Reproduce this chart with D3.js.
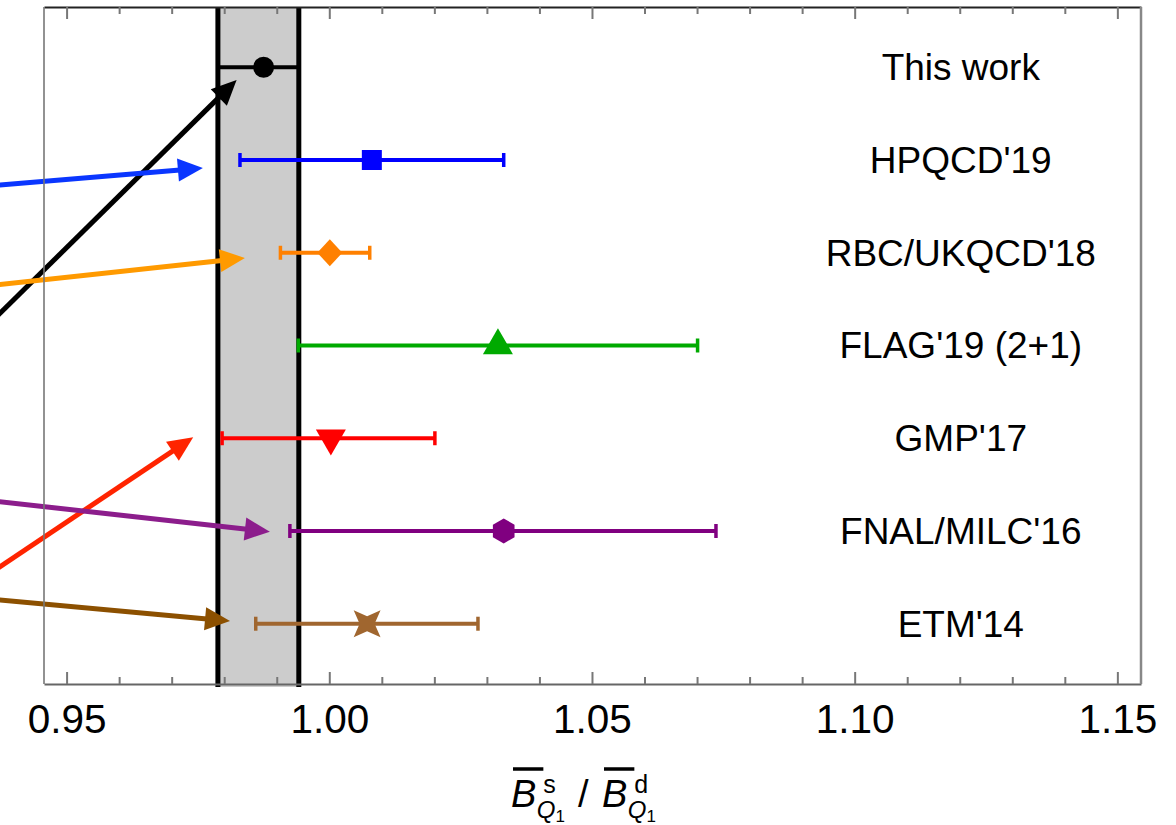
<!DOCTYPE html>
<html><head><meta charset="utf-8">
<script src="https://cdn.jsdelivr.net/npm/d3@7"></script>
<style>
html,body{margin:0;padding:0;background:#fff;}
svg{display:block;font-family:"Liberation Sans",Arial,sans-serif;}
</style></head>
<body>
<svg id="chart" width="1176" height="825"></svg>
<script>
// ---- data ----
const labels  = ["This work","HPQCD'19","RBC/UKQCD'18","FLAG'19 (2+1)","GMP'17","FNAL/MILC'16","ETM'14"];
const rows    = [7,6,5,4,3,2,1];
const central = [0.9875,1.0081,1.0001,1.0321,1.0003,1.0332,1.0072];
const lower   = [0.9788,0.9830,0.9907,0.9941,0.9796,0.9925,0.9860];
const upper   = [0.9942,1.0332,1.0077,1.0701,1.0201,1.0736,1.0283];
const band    = [0.9788,0.9942];
const majorTicks = [0.95,1.00,1.05,1.10,1.15];
const minorTicks = d3.range(0,21).map(i=>+(0.95+i*0.01).toFixed(2)).filter(v=>!majorTicks.includes(v));
// arrows (from another panel, entering from the left)
const arrowFromX = [0.9297,0.9297,0.9297,0.9297,0.9297,0.9297];
const arrowFromY = [3.921,5.695,4.611,1.326,2.363,1.296];
const arrowToX   = [0.98236,0.97594,0.98394,0.97410,0.98869,0.98110];
const arrowToY   = [6.863,5.914,4.944,3.010,1.992,1.029];

// ---- style ----
const colors = ["#000000","#0000ff","#ff8000","#00aa00","#ff0000","#800080","#a0662f"];
const arrowColors = ["#000000","#0a36ff","#ff9a00","#ff2400","#8c1d8c","#8c5000"];
const shapes = ["circle","square","diamond","triangle","triangleDown","hexagon","star4"];

const x = d3.scaleLinear().domain([0.9457,1.1545]).range([44,1141]);
const y = d3.scaleLinear().domain([0.35,7.65]).range([684,7]);
const labelX = 1.1202;

const svg = d3.select("#chart");
const g = svg.append("g");

// band
g.append("rect").attr("x",x(band[0])).attr("width",x(band[1])-x(band[0]))
  .attr("y",y(7.65)).attr("height",y(0.35)-y(7.65)+3).attr("fill","#cccccc");
g.selectAll("line.bandedge").data(band).join("line").attr("class","bandedge")
  .attr("x1",d=>x(d)).attr("x2",d=>x(d)).attr("y1",y(7.65)).attr("y2",y(0.35)+3)
  .attr("stroke","#000").attr("stroke-width",5);

// axes
const axB = d3.axisBottom(x).tickValues(majorTicks).tickSize(-12).tickSizeOuter(0).tickPadding(20).tickFormat(d3.format(".2f"));
const gB = g.append("g").attr("transform",`translate(0,${y(0.35)})`).call(axB);
gB.select(".domain").attr("stroke","#666").attr("stroke-width",2);
gB.selectAll(".tick line").attr("stroke","#777").attr("stroke-width",2);
gB.selectAll(".tick text").attr("font-size",40.5).attr("fill","#000").attr("font-family","Liberation Sans, Arial, sans-serif");
const axBm = d3.axisBottom(x).tickValues(minorTicks).tickSize(-7).tickSizeOuter(0).tickFormat("");
const gBm = g.append("g").attr("transform",`translate(0,${y(0.35)})`).call(axBm);
gBm.select(".domain").remove();
gBm.selectAll(".tick line").attr("stroke","#777").attr("stroke-width",2);

const axT = d3.axisTop(x).tickValues(majorTicks).tickSize(-12).tickSizeOuter(0).tickFormat("");
const gT = g.append("g").attr("transform",`translate(0,${y(7.65)})`).call(axT);
gT.select(".domain").attr("stroke","#222").attr("stroke-width",2);
gT.selectAll(".tick line").attr("stroke","#777").attr("stroke-width",2);
const axTm = d3.axisTop(x).tickValues(minorTicks).tickSize(-7).tickSizeOuter(0).tickFormat("");
const gTm = g.append("g").attr("transform",`translate(0,${y(7.65)})`).call(axTm);
gTm.select(".domain").remove();
gTm.selectAll(".tick line").attr("stroke","#777").attr("stroke-width",2);

// right frame
g.append("line").attr("x1",x(1.1545)).attr("x2",x(1.1545)).attr("y1",y(7.65)).attr("y2",y(0.35))
  .attr("stroke","#888").attr("stroke-width",2.5);

// arrows
const arrowsG = g.append("g");
arrowToX.forEach((tx,i)=>{
  const x0=x(arrowFromX[i]), y0=y(arrowFromY[i]), x1=x(tx), y1=y(arrowToY[i]);
  const ang=Math.atan2(y1-y0,x1-x0), L=25, hw=11.5;
  const bx=x1-L*Math.cos(ang), by=y1-L*Math.sin(ang);
  const px=-Math.sin(ang), py=Math.cos(ang);
  arrowsG.append("line").attr("x1",x0).attr("y1",y0).attr("x2",bx+2*Math.cos(ang)).attr("y2",by+2*Math.sin(ang))
    .attr("stroke",arrowColors[i]).attr("stroke-width",5);
  arrowsG.append("path").attr("d",`M${x1},${y1}L${bx+hw*px},${by+hw*py}L${bx-hw*px},${by-hw*py}Z`)
    .attr("fill",arrowColors[i]);
});

// left frame (drawn over arrows, slightly translucent)
g.append("line").attr("x1",x(0.9457)).attr("x2",x(0.9457)).attr("y1",y(7.65)).attr("y2",y(0.35))
  .attr("stroke","#777").attr("stroke-width",2).attr("opacity",0.8);

// error bars
const eb = g.append("g");
labels.forEach((lab,i)=>{
  const yy=y(rows[i]), c=colors[i];
  eb.append("line").attr("x1",x(lower[i])).attr("x2",x(upper[i])).attr("y1",yy).attr("y2",yy)
    .attr("stroke",c).attr("stroke-width",4);
  [lower[i],upper[i]].forEach(v=>{
    eb.append("line").attr("x1",x(v)).attr("x2",x(v)).attr("y1",yy-7).attr("y2",yy+7)
      .attr("stroke",c).attr("stroke-width",3.5);
  });
});

// markers
function shapePath(s){
  if(s==="circle") return d3.symbol(d3.symbolCircle, Math.PI*10.5*10.5)();
  if(s==="square") return d3.symbol(d3.symbolSquare, 20*20)();
  if(s==="triangle") return d3.symbol(d3.symbolTriangle, Math.sqrt(3)/4*30*30)();
  if(s==="triangleDown") return d3.symbol(d3.symbolTriangle, Math.sqrt(3)/4*30*30)();
  if(s==="diamond") return "M0,-13.5L12.5,0L0,13.5L-12.5,0Z";
  if(s==="hexagon"){ const r=12.5; return d3.range(6).map((k,j)=>{const a=-Math.PI/2+k*Math.PI/3;return (j?"L":"M")+(r*Math.cos(a)).toFixed(2)+","+(r*Math.sin(a)).toFixed(2);}).join("")+"Z"; }
  if(s==="star4"){ const R=19, r=7.5; let p=""; for(let k=0;k<8;k++){const a=-3*Math.PI/4+k*Math.PI/4; const rr=k%2?r:R; p+=(k?"L":"M")+(rr*Math.cos(a)).toFixed(2)+","+(rr*Math.sin(a)).toFixed(2);} return p+"Z"; }
}
labels.forEach((lab,i)=>{
  g.append("path").attr("d",shapePath(shapes[i]))
    .attr("transform",`translate(${x(central[i])},${y(rows[i])})${shapes[i]==="triangleDown"?" rotate(180)":""}`)
    .attr("fill",colors[i]);
});

// labels
g.selectAll("text.lab").data(labels).join("text").attr("class","lab")
  .attr("x",x(labelX)).attr("y",(d,i)=>y(rows[i])).attr("dy","0.35em")
  .attr("text-anchor","middle").attr("font-size",37).attr("fill","#000").text(d=>d);

// axis title: B̄^s_{Q1} / B̄^d_{Q1}
const tg = svg.append("g").attr("fill","#000");
function bbar(bx, sup){
  const base=807;
  const B = tg.append("text").attr("x",bx).attr("y",base).attr("font-size",38).attr("font-style","italic").text("B");
  const wB = B.node().getComputedTextLength();
  tg.append("line").attr("x1",bx+2).attr("x2",bx+wB+7).attr("y1",base-38).attr("y2",base-38)
    .attr("stroke","#000").attr("stroke-width",3.5);
  tg.append("text").attr("x",bx+wB+7).attr("y",base-14).attr("font-size",25).text(sup);
  const Q = tg.append("text").attr("x",bx+wB+0.5).attr("y",base+11).attr("font-size",24).attr("font-style","italic").text("Q");
  const wQ = Q.node().getComputedTextLength();
  tg.append("text").attr("x",bx+wB+0.5+wQ).attr("y",base+15).attr("font-size",17).text("1");
}
bbar(511,"s");
tg.append("text").attr("x",578).attr("y",807).attr("font-size",38).text("/");
bbar(602,"d");
</script>
</body></html>
